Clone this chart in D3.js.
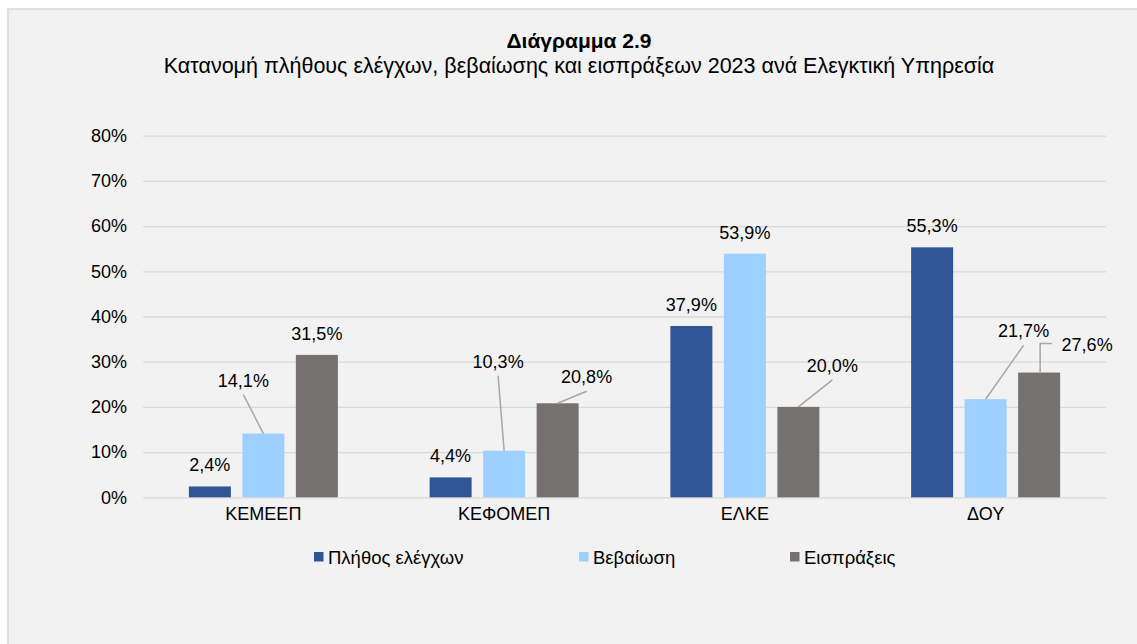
<!DOCTYPE html>
<html>
<head>
<meta charset="utf-8">
<script src="https://cdn.jsdelivr.net/npm/d3@7"></script>
<style>
  html, body { margin: 0; padding: 0; background: #ffffff; }
  svg text { font-family: "Liberation Sans", Arial, sans-serif; fill: #000; }
</style>
</head>
<body>
<svg id="chart" width="1137" height="644"></svg>
<script>
// chart data
const categories = ["ΚΕΜΕΕΠ", "ΚΕΦΟΜΕΠ", "ΕΛΚΕ", "ΔΟΥ"];
const seriesNames = ["Πλήθος ελέγχων", "Βεβαίωση", "Εισπράξεις"];
const plithosElegxon = [2.4, 4.4, 37.9, 55.3];
const vevaiosi = [14.1, 10.3, 53.9, 21.7];
const eispraxeis = [31.5, 20.8, 20.0, 27.6];
const yTicks = [0, 10, 20, 30, 40, 50, 60, 70, 80];

const seriesValues = [plithosElegxon, vevaiosi, eispraxeis];
const colors = ["#2f5597", "#9dcfff", "#767171"];

// labels that were dragged away from their bars, offset from the bar top (key = series|category)
const movedLabels = {
    "1|0": { dx: -20, dy: -47 },
    "1|1": { dx: -6, dy: -83 },
    "2|1": { dx: 29, dy: -20 },
    "2|2": { dx: 34, dy: -35 },
    "1|3": { dx: 38, dy: -62 },
    "2|3": { dx: 48, dy: -22, elbow: true }
};

const svg = d3.select("#chart");
const W = 1137, H = 644;

// chart area background with the border on top/left
svg.append("rect").attr("x", 8).attr("y", 9).attr("width", W).attr("height", H)
    .attr("fill", "#f2f2f2").attr("stroke", "#d9d9d9").attr("stroke-width", 1.5);

// titles
svg.append("text").attr("x", 579).attr("y", 48).attr("text-anchor", "middle")
    .attr("font-size", 21).attr("font-weight", "bold").text("Διάγραμμα 2.9");
svg.append("text").attr("x", 579).attr("y", 73).attr("text-anchor", "middle")
    .attr("font-size", 21.5)
    .text("Κατανομή πλήθους ελέγχων, βεβαίωσης και εισπράξεων 2023 ανά Ελεγκτική Υπηρεσία");

const x = d3.scaleBand().domain(categories).range([143, 1106]).padding(0);
const y = d3.scaleLinear().domain([0, 80]).range([497.3, 135.7]);
const xs = d3.scaleBand().domain(d3.range(seriesNames.length)).range([-74.5, 74.5]).paddingInner(0.215);

// gridlines + y labels
const yAxis = svg.append("g").attr("transform", "translate(143,0)")
    .call(d3.axisLeft(y).tickValues(yTicks).tickSize(-963).tickFormat(d => d + "%"));
yAxis.select(".domain").remove();
yAxis.selectAll(".tick line").attr("stroke", "#d9d9d9").attr("stroke-width", 1.3);
yAxis.selectAll(".tick text").attr("x", -16).attr("font-size", 18)
    .attr("font-family", "Liberation Sans, Arial, sans-serif").attr("fill", "#000");

// category axis labels
const xAxis = svg.append("g").attr("transform", "translate(0,497.3)")
    .call(d3.axisBottom(x).tickSize(0).tickPadding(10));
xAxis.select(".domain").remove();
xAxis.selectAll(".tick text").attr("font-size", 18)
    .attr("font-family", "Liberation Sans, Arial, sans-serif").attr("fill", "#000");

// bars
const barData = [];
seriesValues.forEach((vals, s) => {
    vals.forEach((v, c) => barData.push({ s: s, c: c, v: v }));
});

const barCx = d => x(categories[d.c]) + x.bandwidth() / 2 + xs(d.s) + xs.bandwidth() / 2;

svg.append("g").selectAll("rect").data(barData).join("rect")
    .attr("x", d => x(categories[d.c]) + x.bandwidth() / 2 + xs(d.s))
    .attr("y", d => y(d.v))
    .attr("width", xs.bandwidth())
    .attr("height", d => y(0) - y(d.v))
    .attr("fill", d => colors[d.s]);

// value labels and leader lines
const fmt = v => v.toFixed(1).replace(".", ",") + "%";
const labels = svg.append("g");
barData.forEach(d => {
    const bx = barCx(d), by = y(d.v);
    const moved = movedLabels[d.s + "|" + d.c];
    let tx = bx, ty = by - 15;
    if (moved) {
        tx = bx + moved.dx;
        ty = by + moved.dy;
        if (moved.elbow) {
            const sx = tx - 35;
            labels.append("path")
                .attr("d", `M${sx},${ty - 7}H${bx + 1}V${by}`)
                .attr("fill", "none").attr("stroke", "#a6a6a6").attr("stroke-width", 1.5);
        } else {
            labels.append("line")
                .attr("x1", tx).attr("y1", ty + 8).attr("x2", bx).attr("y2", by)
                .attr("stroke", "#a6a6a6").attr("stroke-width", 1.5);
        }
    }
    labels.append("text").attr("x", tx).attr("y", ty).attr("text-anchor", "middle")
        .attr("font-size", 18).text(fmt(d.v));
});

// legend
const legendX = [314, 579, 790];
const legend = svg.append("g");
seriesNames.forEach((name, i) => {
    legend.append("rect").attr("x", legendX[i]).attr("y", 552).attr("width", 9.5).attr("height", 9.5)
        .attr("fill", colors[i]);
    legend.append("text").attr("x", legendX[i] + 14).attr("y", 563.5).attr("font-size", 18.5).text(name);
});
</script>
</body>
</html>
